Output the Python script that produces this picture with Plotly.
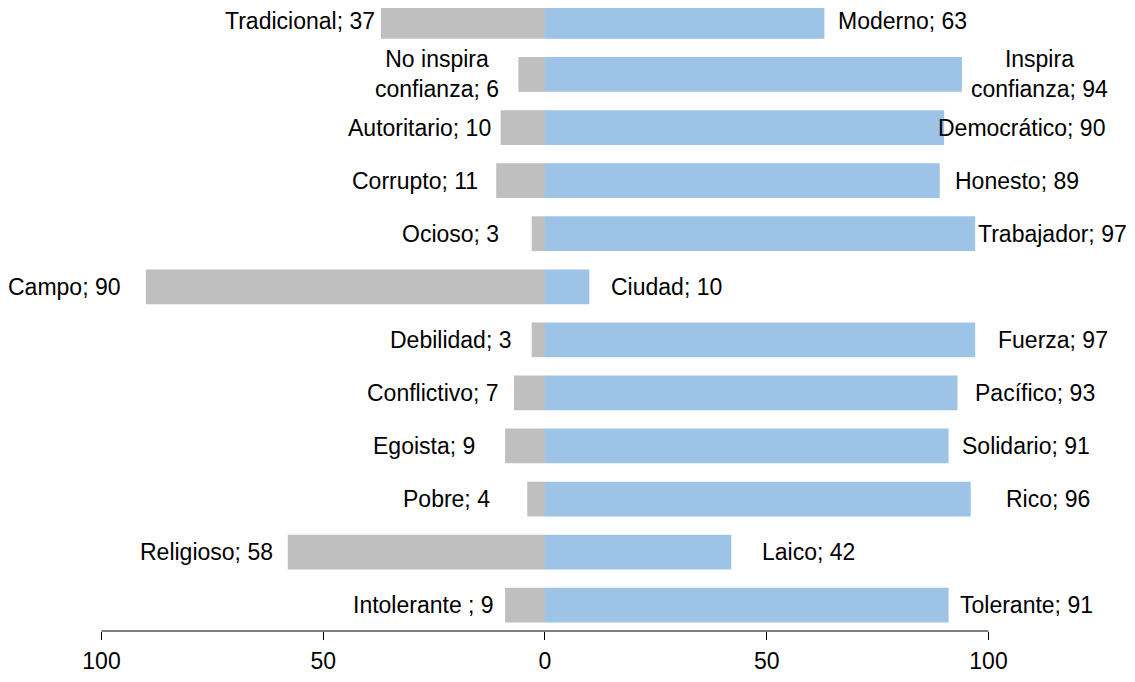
import plotly.graph_objects as go

left_names = ["Tradicional", "No inspira<br>confianza", "Autoritario", "Corrupto", "Ocioso",
              "Campo", "Debilidad", "Conflictivo", "Egoista", "Pobre", "Religioso", "Intolerante "]
left_values = [37, 6, 10, 11, 3, 90, 3, 7, 9, 4, 58, 9]
right_names = ["Moderno", "Inspira<br>confianza", "Democrático", "Honesto", "Trabajador",
               "Ciudad", "Fuerza", "Pacífico", "Solidario", "Rico", "Laico", "Tolerante"]
right_values = [63, 94, 90, 89, 97, 10, 97, 93, 91, 96, 42, 91]
tick_vals = [-100, -50, 0, 50, 100]
tick_text = ["100", "50", "0", "50", "100"]

GRAY = "#BFBFBF"
BLUE = "#9DC3E6"
FONT = dict(family="Liberation Sans, Arial, sans-serif", size=23, color="#000000")
LEFT_OFFSET = 18.3
RIGHT_OFFSET = 17.5

rows = list(range(len(left_names)))

fig = go.Figure()
fig.add_trace(go.Bar(y=rows, x=[-v for v in left_values], orientation="h",
                     marker=dict(color=GRAY, line=dict(width=0)), showlegend=False,
                     hoverinfo="skip"))
fig.add_trace(go.Bar(y=rows, x=right_values, orientation="h",
                     marker=dict(color=BLUE, line=dict(width=0)), showlegend=False,
                     hoverinfo="skip"))

for i in rows:
    fig.add_annotation(x=-left_values[i] - LEFT_OFFSET, y=i, xref="x", yref="y",
                       text=f"{left_names[i]}; {left_values[i]}", showarrow=False,
                       xanchor="center", yanchor="middle", font=FONT, align="center")
    fig.add_annotation(x=right_values[i] + RIGHT_OFFSET, y=i, xref="x", yref="y",
                       text=f"{right_names[i]}; {right_values[i]}", showarrow=False,
                       xanchor="center", yanchor="middle", font=FONT, align="center")

# axis baseline spanning -100..100
fig.add_shape(type="line", xref="x", yref="paper", x0=tick_vals[0], x1=tick_vals[-1],
              y0=0, y1=0, line=dict(color="#000000", width=1))

n = len(rows)
fig.update_layout(
    width=1119, height=666,
    margin=dict(l=0, r=0, t=0, b=38),
    barmode="relative",
    bargap=0.345,
    plot_bgcolor="white", paper_bgcolor="white",
    xaxis=dict(range=[-121.08, 131.23], tickvals=tick_vals, ticktext=tick_text,
               ticks="outside", ticklen=8, tickcolor="#000000", tickwidth=1,
               showline=False, zeroline=False, showgrid=False,
               tickfont=FONT, ticklabelstandoff=1, fixedrange=True),
    yaxis=dict(range=[(n - 1) + 0.486, -0.2523], showticklabels=False, ticks="",
               showline=False, zeroline=False, showgrid=False, fixedrange=True),
)

fig.write_html("out.html")
